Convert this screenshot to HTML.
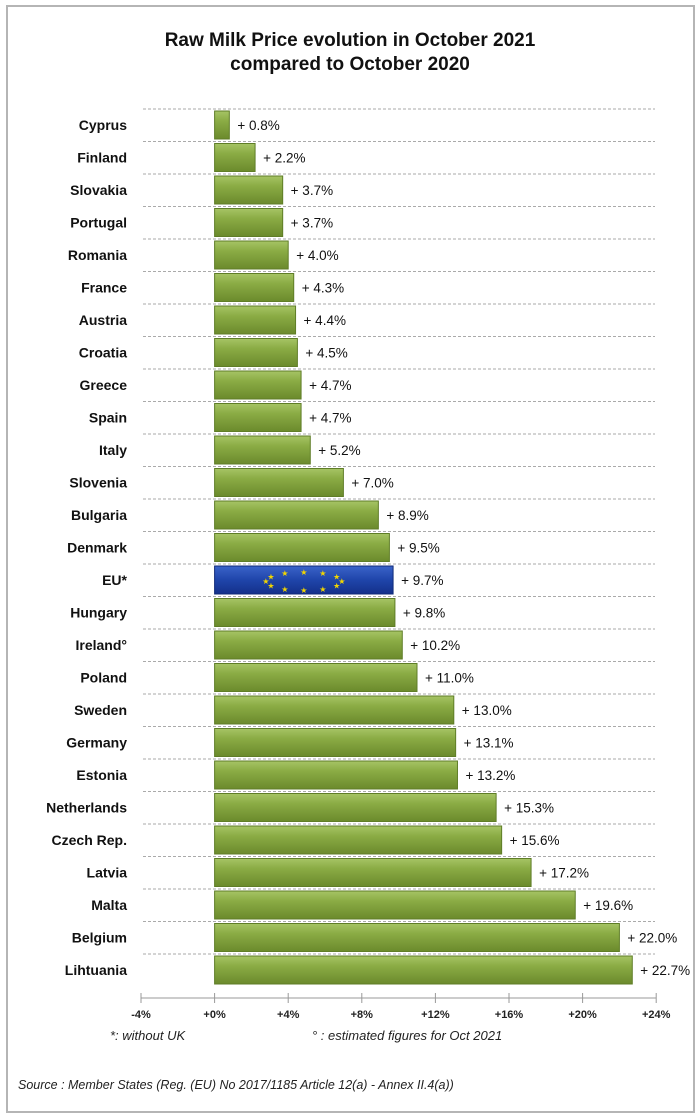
<!DOCTYPE html>
<html><head><meta charset="utf-8"><style>
body{margin:0;background:#fff;width:700px;height:1116px;overflow:hidden}
svg{display:block}
text{font-family:"Liberation Sans","DejaVu Sans",sans-serif}
</style></head><body>
<svg id="chart" width="700" height="1116" viewBox="0 0 700 1116">
<defs>
<linearGradient id="g" x1="0" y1="0" x2="0" y2="1"><stop offset="0" stop-color="#a6c465"/><stop offset="0.35" stop-color="#8bac45"/><stop offset="1" stop-color="#6b8a2c"/></linearGradient>
<linearGradient id="b" x1="0" y1="0" x2="0" y2="1"><stop offset="0" stop-color="#3a63c9"/><stop offset="0.5" stop-color="#1f45aa"/><stop offset="1" stop-color="#14308a"/></linearGradient>
</defs>
<rect x="7" y="6" width="687" height="1106" fill="#fff" stroke="#b5b5b5" stroke-width="2"/>
<text x="350" y="46" text-anchor="middle" font-size="19" font-weight="bold" fill="#111">Raw Milk Price evolution in October 2021</text>
<text x="350" y="70" text-anchor="middle" font-size="19" font-weight="bold" fill="#111">compared to October 2020</text>
<g id="plot"></g>
<text x="110" y="1040" font-size="13" font-style="italic" fill="#222">*: without UK</text>
<text x="312" y="1040" font-size="13" font-style="italic" fill="#222">° : estimated figures for Oct 2021</text>
<text x="18" y="1089" font-size="12.5" font-style="italic" fill="#222">Source : Member States (Reg. (EU) No 2017/1185 Article 12(a) - Annex II.4(a))</text>
</svg>
<script>
const categories=["Cyprus","Finland","Slovakia","Portugal","Romania","France","Austria","Croatia","Greece","Spain","Italy","Slovenia","Bulgaria","Denmark","EU*","Hungary","Ireland°","Poland","Sweden","Germany","Estonia","Netherlands","Czech Rep.","Latvia","Malta","Belgium","Lihtuania"];
const values=[0.8,2.2,3.7,3.7,4.0,4.3,4.4,4.5,4.7,4.7,5.2,7.0,8.9,9.5,9.7,9.8,10.2,11.0,13.0,13.1,13.2,15.3,15.6,17.2,19.6,22.0,22.7];
const ticks=[-4,0,4,8,12,16,20,24];
const NS="http://www.w3.org/2000/svg";
const g=document.getElementById("plot");
const x=v=>214.6+v*18.4;
const rowTop=i=>109+i*32.5;
function mk(t,a){const e=document.createElementNS(NS,t);for(const k in a)e.setAttribute(k,a[k]);g.appendChild(e);return e;}
for(let i=0;i<=categories.length-1;i++){
  const gl=mk("line",{x1:143,x2:655,y1:rowTop(i),y2:rowTop(i),stroke:"#aaa","stroke-dasharray":"3,2"});
  
  
}
categories.forEach((c,i)=>{
  const y=rowTop(i)+2,h=28,v=values[i],eu=c==="EU*";
  const r=mk("rect",{x:x(0),y:y,width:x(v)-x(0),height:h,fill:eu?"url(#b)":"url(#g)",stroke:eu?"#102a78":"#5f7d27","stroke-width":1});
  
  
  if(eu){for(let k=0;k<12;k++){const a=k*Math.PI/6;const s=mk("text",{x:(x(0)+x(v))/2+Math.cos(a)*38,y:y+h/2+4+Math.sin(a)*9,"text-anchor":"middle","font-size":8,fill:"#f2d600"});s.textContent="★";
    
    }}
  const l=mk("text",{x:127,y:y+h/2+5,"text-anchor":"end","font-size":14,"font-weight":"bold",fill:"#111"});l.textContent=c;
  
  
  const vl=mk("text",{x:x(v)+8,y:y+h/2+5,"font-size":13.5,fill:"#111"});vl.textContent="+ "+v.toFixed(1)+"%";
  
  
});
const ax=mk("line",{x1:x(-4),x2:x(24),y1:998,y2:998,stroke:"#999"});


ticks.forEach(t=>{
  const tk=mk("line",{x1:x(t),x2:x(t),y1:993,y2:1003,stroke:"#999"});
  
  
  const tl=mk("text",{x:x(t),y:1018,"text-anchor":"middle","font-size":11,"font-weight":"bold",fill:"#222"});tl.textContent=(t<0?"":"+")+t+"%";
  
  
});
</script>
</body></html>
